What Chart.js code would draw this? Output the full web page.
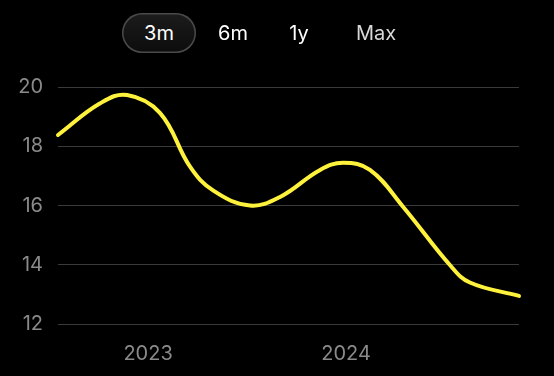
<!DOCTYPE html>
<html>
<head>
<meta charset="utf-8">
<script src="https://cdn.jsdelivr.net/npm/chart.js@4/dist/chart.umd.min.js"></script>
<style>
  html, body { margin: 0; padding: 0; background: #000; }
  body { width: 554px; height: 376px; position: relative; overflow: hidden; font-family: Inter, "Noto Sans", sans-serif; }
  #wrap { position: absolute; left: 0; top: 0; width: 554px; height: 376px; }
  .tabs { position: absolute; top: 13px; left: 0; width: 554px; height: 40px; }
  .tab { position: absolute; top: 0; height: 40px; line-height: 40px; font-size: 20px; color: #fff; text-align: center; transform: translateX(-50%); }
  .tab.active { width: 74px; border-radius: 20px; background: linear-gradient(#1c1c1c, #0c0c0c); box-shadow: inset 0 0 0 1.5px #4a4a4a; }
</style>
</head>
<body>
<div id="wrap"><canvas id="c" width="554" height="376"></canvas></div>
<div class="tabs">
  <div class="tab active" style="left:159px">3m</div>
  <div class="tab" style="left:233px">6m</div>
  <div class="tab" style="left:299px">1y</div>
  <div class="tab" style="left:376px;color:#d8d8d8">Max</div>
</div>
<script>
// Time in decimal years
const times = [2022.545, 2022.758, 2022.894, 2023.061, 2023.212, 2023.330, 2023.515, 2023.667, 2023.869, 2023.985, 2024.121, 2024.288, 2024.525, 2024.626, 2024.874];
const values = [18.38, 19.45, 19.73, 19.12, 17.31, 16.50, 16.00, 16.29, 17.20, 17.44, 17.20, 15.96, 13.99, 13.40, 12.95];
const yearTicks = [2023, 2024];
const yTicks = [12, 14, 16, 18, 20];

const points = times.map((t, i) => ({ x: t, y: values[i] }));

new Chart(document.getElementById('c'), {
  type: 'line',
  data: {
    datasets: [{
      data: points,
      borderColor: '#fff23c',
      borderWidth: 4,
      pointRadius: 0,
      tension: 0.4,
      fill: false,
      clip: false,
      borderCapStyle: 'round'
    }]
  },
  options: {
    responsive: false,
    animation: false,
    layout: { padding: { top: 87, right: 35, left: 0, bottom: 0 } },
    plugins: { legend: { display: false }, tooltip: { enabled: false } },
    scales: {
      x: {
        type: 'linear',
        min: times[0],
        max: times[times.length - 1],
        afterBuildTicks: (s) => { s.ticks = yearTicks.map(v => ({ value: v })); },
        afterFit: (s) => { s.height = 52; },
        grid: { display: false, drawTicks: false },
        border: { display: false },
        ticks: {
          color: '#8a8a8a',
          font: { size: 20, family: 'Inter' },
          padding: 18,
          maxRotation: 0,
          callback: (v) => String(v)
        }
      },
      y: {
        min: 12,
        max: 20,
        afterBuildTicks: (s) => { s.ticks = yTicks.map(v => ({ value: v })); },
        afterFit: (s) => { s.width = 58; },
        grid: { color: '#3a3a3a', lineWidth: 1, drawTicks: false },
        border: { display: false },
        ticks: {
          color: '#8a8a8a',
          font: { size: 20, family: 'Inter' },
          padding: 15
        }
      }
    }
  }
});
</script>
</body>
</html>
